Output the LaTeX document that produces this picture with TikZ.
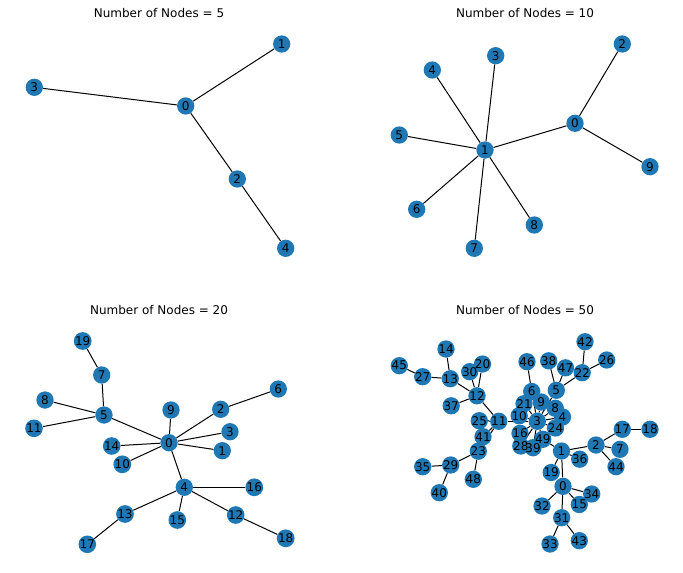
\documentclass[tikz,border=0pt]{standalone}
\usepackage{fontspec}
\setmainfont{DejaVu Sans}
\usetikzlibrary{backgrounds}
\definecolor{nxblue}{HTML}{1F78B4}
\begin{document}
\begin{tikzpicture}[x=1pt, y=-1pt, font=\fontsize{12}{14}\selectfont,
  vtx/.style={circle, fill=nxblue, inner sep=0pt, minimum size=17.3pt},
  lbl/.style={inner sep=0pt},
  edge/.style={line width=1pt, black}]
\useasboundingbox (0,0) rectangle (683,573);
% Number of Nodes = 5
\node at (159,13) (t1) {Number of Nodes = 5};
\node[vtx] (a0) at (185.7,106) {0};
\node[vtx] (a1) at (281.7,44) {1};
\node[vtx] (a2) at (237.3,179) {2};
\node[vtx] (a3) at (34.3,87.3) {3};
\node[vtx] (a4) at (285.7,248.3) {4};
% Number of Nodes = 10
\node at (525,13) (t2) {Number of Nodes = 10};
\node[vtx] (b0) at (575,123.3) {0};
\node[vtx] (b1) at (485,150) {1};
\node[vtx] (b2) at (622.3,44) {2};
\node[vtx] (b3) at (495.7,55.7) {3};
\node[vtx] (b4) at (432.3,70) {4};
\node[vtx] (b5) at (399.3,135) {5};
\node[vtx] (b6) at (416.7,209.3) {6};
\node[vtx] (b7) at (474.3,248.3) {7};
\node[vtx] (b8) at (534.3,225) {8};
\node[vtx] (b9) at (650,166.7) {9};
% Number of Nodes = 20
\node at (159,310) (t3) {Number of Nodes = 20};
\node[vtx] (c0) at (169,442.7) {0};
\node[vtx] (c1) at (222.3,450.7) {1};
\node[vtx] (c2) at (220.7,409.3) {2};
\node[vtx] (c3) at (230,431.7) {3};
\node[vtx] (c4) at (184.3,487.3) {4};
\node[vtx] (c5) at (104,415) {5};
\node[vtx] (c6) at (278.3,389) {6};
\node[vtx] (c7) at (101.7,375) {7};
\node[vtx] (c8) at (45,400) {8};
\node[vtx] (c9) at (171,410) {9};
\node[vtx] (c10) at (122.3,464.3) {10};
\node[vtx] (c11) at (34,428.3) {11};
\node[vtx] (c12) at (235.7,515) {12};
\node[vtx] (c13) at (125,514) {13};
\node[vtx] (c14) at (111.7,446) {14};
\node[vtx] (c15) at (177.3,520) {15};
\node[vtx] (c16) at (254.3,487.3) {16};
\node[vtx] (c17) at (87.3,544.3) {17};
\node[vtx] (c18) at (285.7,538.3) {18};
\node[vtx] (c19) at (82.7,341) {19};
% Number of Nodes = 50
\node at (525,310) (t4) {Number of Nodes = 50};
\node[vtx] (d0) at (563,486.3) {};
\node[vtx] (d1) at (561.5,451) {};
\node[vtx] (d2) at (596,445) {};
\node[vtx] (d3) at (537.3,421.3) {};
\node[vtx] (d4) at (562.5,417) {};
\node[vtx] (d5) at (556.3,390.3) {};
\node[vtx] (d6) at (531.7,391.5) {};
\node[vtx] (d7) at (620,449.3) {};
\node[vtx] (d8) at (555.3,408.3) {};
\node[vtx] (d9) at (541.3,402) {};
\node[vtx] (d10) at (519.2,415.8) {};
\node[vtx] (d11) at (498.8,421.3) {};
\node[vtx] (d12) at (477,395.8) {};
\node[vtx] (d13) at (450.3,378.7) {};
\node[vtx] (d14) at (446,349) {};
\node[vtx] (d15) at (579.3,504.5) {};
\node[vtx] (d16) at (520,433.3) {};
\node[vtx] (d17) at (622.3,429.3) {};
\node[vtx] (d18) at (650,429.3) {};
\node[vtx] (d19) at (551.2,472.5) {};
\node[vtx] (d20) at (482.5,364) {};
\node[vtx] (d21) at (524,403.7) {};
\node[vtx] (d22) at (582.2,372.7) {};
\node[vtx] (d23) at (478.3,451.2) {};
\node[vtx] (d24) at (555.5,428) {};
\node[vtx] (d25) at (479.3,420.7) {};
\node[vtx] (d26) at (606.7,360) {};
\node[vtx] (d27) at (422.7,376.7) {};
\node[vtx] (d28) at (520.8,446) {};
\node[vtx] (d29) at (450.7,465) {};
\node[vtx] (d30) at (469.7,371.7) {};
\node[vtx] (d31) at (561.7,517.7) {};
\node[vtx] (d32) at (542,506) {};
\node[vtx] (d33) at (550,544) {};
\node[vtx] (d34) at (591.7,494) {};
\node[vtx] (d35) at (422.7,466.7) {};
\node[vtx] (d36) at (579.7,459.2) {};
\node[vtx] (d37) at (451.2,405.8) {};
\node[vtx] (d38) at (548.7,360.8) {};
\node[vtx] (d39) at (533,447.7) {};
\node[vtx] (d40) at (439.3,492.7) {};
\node[vtx] (d41) at (483,436.7) {};
\node[vtx] (d42) at (585,341.7) {};
\node[vtx] (d43) at (579.3,540.7) {};
\node[vtx] (d44) at (616,466.7) {};
\node[vtx] (d45) at (399.3,365.7) {};
\node[vtx] (d46) at (527,361.7) {};
\node[vtx] (d47) at (565.5,367.8) {};
\node[vtx] (d48) at (473.3,479.3) {};
\node[vtx] (d49) at (542.8,439.3) {};
\node[lbl] at (d0) {0};
\node[lbl] at (d1) {1};
\node[lbl] at (d2) {2};
\node[lbl] at (d3) {3};
\node[lbl] at (d4) {4};
\node[lbl] at (d5) {5};
\node[lbl] at (d6) {6};
\node[lbl] at (d7) {7};
\node[lbl] at (d8) {8};
\node[lbl] at (d9) {9};
\node[lbl] at (d10) {10};
\node[lbl] at (d11) {11};
\node[lbl] at (d12) {12};
\node[lbl] at (d13) {13};
\node[lbl] at (d14) {14};
\node[lbl] at (d15) {15};
\node[lbl] at (d16) {16};
\node[lbl] at (d17) {17};
\node[lbl] at (d18) {18};
\node[lbl] at (d19) {19};
\node[lbl] at (d20) {20};
\node[lbl] at (d21) {21};
\node[lbl] at (d22) {22};
\node[lbl] at (d23) {23};
\node[lbl] at (d24) {24};
\node[lbl] at (d25) {25};
\node[lbl] at (d26) {26};
\node[lbl] at (d27) {27};
\node[lbl] at (d28) {28};
\node[lbl] at (d29) {29};
\node[lbl] at (d30) {30};
\node[lbl] at (d31) {31};
\node[lbl] at (d32) {32};
\node[lbl] at (d33) {33};
\node[lbl] at (d34) {34};
\node[lbl] at (d35) {35};
\node[lbl] at (d36) {36};
\node[lbl] at (d37) {37};
\node[lbl] at (d38) {38};
\node[lbl] at (d39) {39};
\node[lbl] at (d40) {40};
\node[lbl] at (d41) {41};
\node[lbl] at (d42) {42};
\node[lbl] at (d43) {43};
\node[lbl] at (d44) {44};
\node[lbl] at (d45) {45};
\node[lbl] at (d46) {46};
\node[lbl] at (d47) {47};
\node[lbl] at (d48) {48};
\node[lbl] at (d49) {49};
\begin{scope}[on background layer]
\draw[edge] (a0) -- (a1);
\draw[edge] (a0) -- (a2);
\draw[edge] (a0) -- (a3);
\draw[edge] (a2) -- (a4);
\draw[edge] (b0) -- (b1);
\draw[edge] (b0) -- (b2);
\draw[edge] (b0) -- (b9);
\draw[edge] (b1) -- (b3);
\draw[edge] (b1) -- (b4);
\draw[edge] (b1) -- (b5);
\draw[edge] (b1) -- (b6);
\draw[edge] (b1) -- (b7);
\draw[edge] (b1) -- (b8);
\draw[edge] (c0) -- (c1);
\draw[edge] (c0) -- (c2);
\draw[edge] (c0) -- (c3);
\draw[edge] (c0) -- (c4);
\draw[edge] (c0) -- (c5);
\draw[edge] (c0) -- (c9);
\draw[edge] (c0) -- (c10);
\draw[edge] (c0) -- (c14);
\draw[edge] (c2) -- (c6);
\draw[edge] (c4) -- (c12);
\draw[edge] (c4) -- (c13);
\draw[edge] (c4) -- (c15);
\draw[edge] (c4) -- (c16);
\draw[edge] (c5) -- (c7);
\draw[edge] (c5) -- (c8);
\draw[edge] (c5) -- (c11);
\draw[edge] (c7) -- (c19);
\draw[edge] (c12) -- (c18);
\draw[edge] (c13) -- (c17);
\draw[edge] (d0) -- (d1);
\draw[edge] (d0) -- (d15);
\draw[edge] (d0) -- (d31);
\draw[edge] (d0) -- (d32);
\draw[edge] (d0) -- (d34);
\draw[edge] (d1) -- (d2);
\draw[edge] (d1) -- (d19);
\draw[edge] (d1) -- (d36);
\draw[edge] (d1) -- (d49);
\draw[edge] (d2) -- (d7);
\draw[edge] (d2) -- (d17);
\draw[edge] (d2) -- (d44);
\draw[edge] (d3) -- (d4);
\draw[edge] (d3) -- (d5);
\draw[edge] (d3) -- (d6);
\draw[edge] (d3) -- (d8);
\draw[edge] (d3) -- (d9);
\draw[edge] (d3) -- (d10);
\draw[edge] (d3) -- (d11);
\draw[edge] (d3) -- (d16);
\draw[edge] (d3) -- (d21);
\draw[edge] (d3) -- (d24);
\draw[edge] (d3) -- (d28);
\draw[edge] (d3) -- (d39);
\draw[edge] (d3) -- (d49);
\draw[edge] (d5) -- (d22);
\draw[edge] (d5) -- (d38);
\draw[edge] (d5) -- (d47);
\draw[edge] (d6) -- (d46);
\draw[edge] (d11) -- (d12);
\draw[edge] (d11) -- (d23);
\draw[edge] (d11) -- (d25);
\draw[edge] (d11) -- (d41);
\draw[edge] (d12) -- (d13);
\draw[edge] (d12) -- (d20);
\draw[edge] (d12) -- (d30);
\draw[edge] (d12) -- (d37);
\draw[edge] (d13) -- (d14);
\draw[edge] (d13) -- (d27);
\draw[edge] (d17) -- (d18);
\draw[edge] (d22) -- (d26);
\draw[edge] (d22) -- (d42);
\draw[edge] (d23) -- (d29);
\draw[edge] (d23) -- (d48);
\draw[edge] (d27) -- (d45);
\draw[edge] (d29) -- (d35);
\draw[edge] (d29) -- (d40);
\draw[edge] (d31) -- (d33);
\draw[edge] (d31) -- (d43);
\end{scope}
\end{tikzpicture}
\end{document}
